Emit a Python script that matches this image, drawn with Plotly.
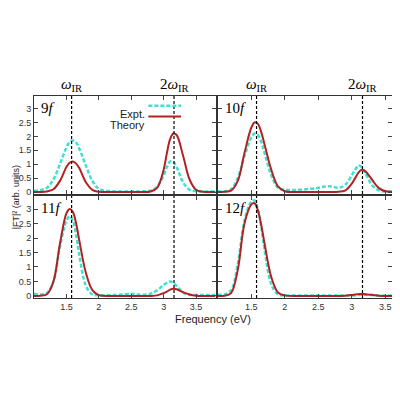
import plotly.graph_objects as go

x = [1.0,1.1,1.2,1.3,1.4,1.5,1.55,1.6,1.65,1.7,1.8,1.9,2.0,2.2,2.4,2.5,2.6,2.7,2.8,2.9,3.0,3.05,3.1,3.15,3.2,3.3,3.4,3.5,3.6,3.8]
expt = {
 "9f":  [0.05,0.07,0.15,0.45,1.0,1.6,1.8,1.85,1.78,1.55,0.95,0.4,0.12,0.03,0.02,0.02,0.02,0.03,0.05,0.2,0.6,0.9,1.1,1.08,0.9,0.35,0.08,0.03,0.02,0.02],
 "10f": [0.02,0.03,0.1,0.5,1.3,1.95,2.1,2.05,1.8,1.4,0.6,0.15,0.08,0.08,0.12,0.15,0.2,0.2,0.15,0.25,0.6,0.8,0.95,0.9,0.7,0.25,0.06,0.02,0.02,0.02],
 "11f": [0.08,0.05,0.1,0.5,1.7,2.6,2.75,2.6,2.1,1.4,0.35,0.05,0.03,0.03,0.06,0.08,0.05,0.04,0.08,0.2,0.38,0.45,0.5,0.45,0.35,0.12,0.04,0.03,0.03,0.03],
 "12f": [0.05,0.05,0.2,1.1,2.6,3.25,3.3,3.0,2.4,1.6,0.4,0.05,0.02,0.02,0.02,0.02,0.02,0.02,0.02,0.02,0.02,0.02,0.03,0.04,0.04,0.03,0.02,0.02,0.02,0.02],
}
theory = {
 "9f":  [0,0,0.02,0.1,0.4,0.9,1.05,1.1,1.02,0.85,0.35,0.08,0.01,0,0,0,0,0,0.02,0.15,0.8,1.4,1.9,2.1,2.05,1.3,0.45,0.08,0.01,0],
 "10f": [0,0.01,0.05,0.4,1.4,2.3,2.5,2.45,2.15,1.7,0.8,0.2,0.03,0,0,0,0,0,0.01,0.05,0.3,0.5,0.7,0.8,0.75,0.45,0.15,0.03,0.01,0],
 "11f": [0,0.01,0.06,0.5,1.8,2.85,3.0,2.9,2.5,1.9,0.8,0.2,0.03,0,0,0,0,0,0,0.02,0.1,0.15,0.22,0.25,0.23,0.13,0.05,0.01,0,0],
 "12f": [0,0.01,0.1,0.9,2.5,3.15,3.2,2.95,2.45,1.8,0.65,0.12,0.02,0,0,0,0,0,0,0.01,0.03,0.05,0.06,0.07,0.06,0.04,0.01,0,0,0],
}
panels = ["9f","10f","11f","12f"]
markers = [1.58, 3.16]
xticks = [1.5,2,2.5,3,3.5]
yticks = [0,0.5,1,1.5,2,2.5,3]

fig = go.Figure()
dom_x = [[0,0.507],[0.513,1]]
dom_y = [[0.515,1],[0,0.505]]
ann = []
shapes = []
tf = dict(size=9,family="Liberation Sans",color="#333")
for i,p in enumerate(panels):
    r, c = divmod(i,2)
    n = i+1
    xa = "x" if n==1 else f"x{n}"
    ya = "y" if n==1 else f"y{n}"
    fig.add_trace(go.Scatter(x=x,y=expt[p],mode="lines",line=dict(color="#40e0d0",width=2.5,dash="4px,2px",shape="spline"),xaxis=xa,yaxis=ya,showlegend=False))
    fig.add_trace(go.Scatter(x=x,y=theory[p],mode="lines",line=dict(color="#b22222",width=2,shape="spline"),xaxis=xa,yaxis=ya,showlegend=False))
    sfx = "" if n==1 else str(n)
    fig.update_layout(**{
        f"xaxis{sfx}": dict(domain=dom_x[c],range=[1.0,3.8 if c==0 else 3.6],tickvals=xticks,ticks="inside",ticklen=4,showticklabels=(r==1),mirror="ticks",showline=True,linecolor="#333",linewidth=1,showgrid=False,zeroline=False,anchor=ya,tickfont=tf),
        f"yaxis{sfx}": dict(domain=dom_y[r],range=[-0.07,3.45],tickvals=yticks,ticks="inside",ticklen=4,showticklabels=(c==0),mirror="ticks",showline=True,linecolor="#333",linewidth=1,showgrid=False,zeroline=False,anchor=xa,tickfont=tf),
    })
    for m in markers:
        shapes.append(dict(type="line",xref=xa,yref=f"{ya} domain",x0=m,x1=m,y0=0,y1=1,line=dict(color="black",width=1.2,dash="3px,2px")))
    ann.append(dict(text=f"{p[:-1]}<i>f</i>",xref=f"{xa} domain",yref=f"{ya} domain",x=0.03,y=0.98,xanchor="left",yanchor="top",showarrow=False,font=dict(size=15,family="Liberation Serif",color="black")))
    if r==0:
        ann.append(dict(text="<i>ω</i><sub>IR</sub>",xref=xa,yref="paper",x=markers[0],y=1.0,yanchor="bottom",showarrow=False,font=dict(size=15,family="Liberation Serif",color="black")))
        ann.append(dict(text="2<i>ω</i><sub>IR</sub>",xref=xa,yref="paper",x=markers[1],y=1.0,yanchor="bottom",showarrow=False,font=dict(size=15,family="Liberation Serif",color="black")))

ann.append(dict(text="Expt.",xref="x domain",yref="y domain",x=0.62,y=0.9,xanchor="right",showarrow=False,font=dict(size=11,family="Liberation Sans",color="#222")))
ann.append(dict(text="Theory",xref="x domain",yref="y domain",x=0.62,y=0.79,xanchor="right",showarrow=False,font=dict(size=11,family="Liberation Sans",color="#222")))
shapes.append(dict(type="line",xref="x domain",yref="y domain",x0=0.63,x1=0.81,y0=0.9,y1=0.9,line=dict(color="#40e0d0",width=2.5,dash="4px,2px")))
shapes.append(dict(type="line",xref="x domain",yref="y domain",x0=0.63,x1=0.81,y0=0.79,y1=0.79,line=dict(color="#b22222",width=2)))

ann.append(dict(text="|FT|² (arb. units)",xref="paper",yref="paper",x=-0.069,y=0.5,textangle=-90,showarrow=False,font=dict(size=9,family="Liberation Sans",color="#222")))
ann.append(dict(text="Frequency (eV)",xref="paper",yref="paper",x=0.5,y=-0.065,yanchor="top",showarrow=False,font=dict(size=11,family="Liberation Sans",color="#222")))

fig.update_layout(width=400,height=400,margin=dict(l=26,r=16,t=88,b=110),plot_bgcolor="white",paper_bgcolor="white",annotations=ann,shapes=shapes)
fig.write_html("out.html")
